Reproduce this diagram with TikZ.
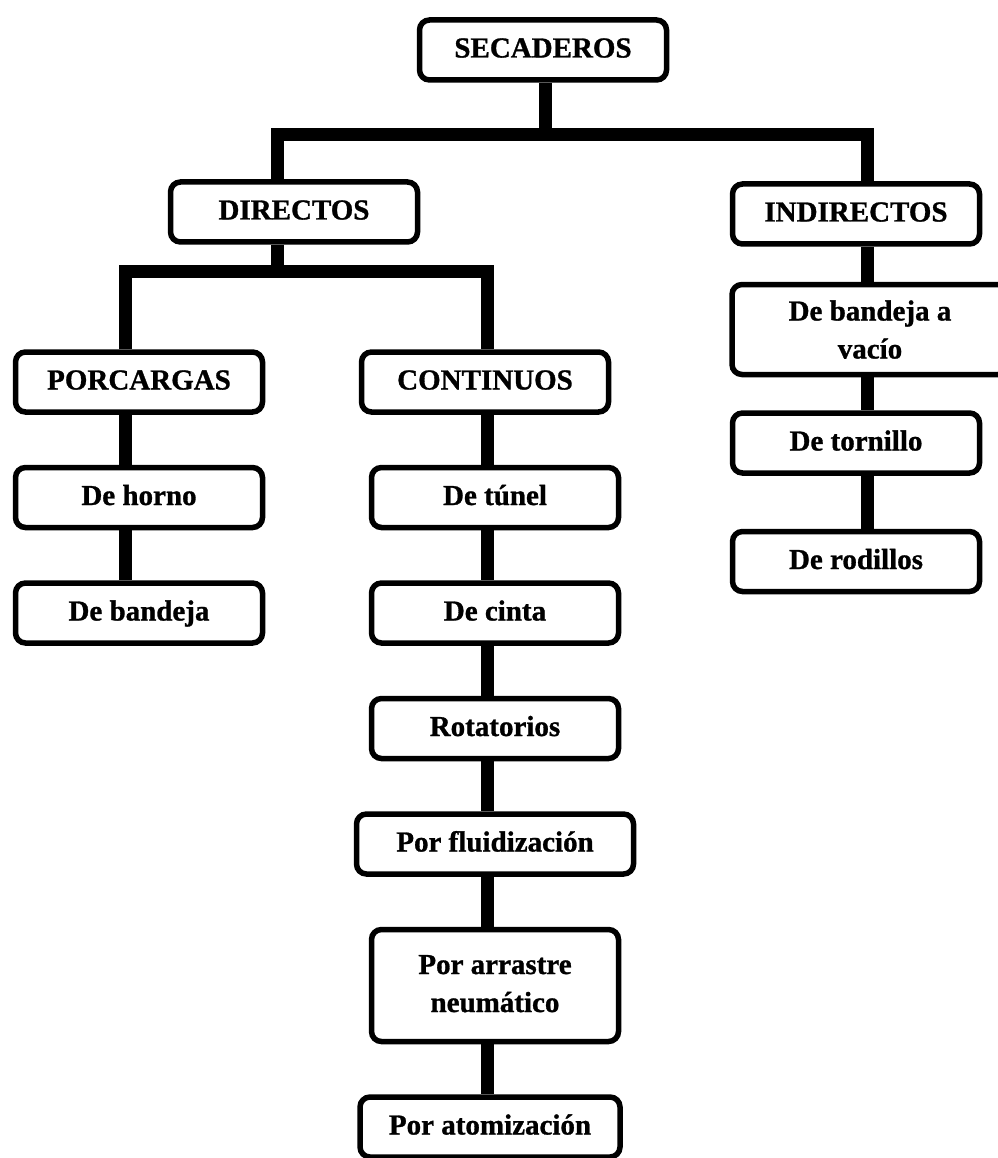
\documentclass[tikz,border=0pt]{standalone}
\usepackage{fontspec}
\setmainfont[BoldFeatures={FakeBold=1}]{Liberation Serif}
\usetikzlibrary{positioning}

\begin{document}
\begin{tikzpicture}[
      x=1pt, y=-1pt,
      node distance=50pt,
      box/.style={
        draw,
        line width=5.5pt,
        rounded corners=10pt,
        minimum width=247pt,
        minimum height=60pt,
        text height=20pt,
        text depth=5pt,
        align=center,
        font=\fontsize{29}{38}\selectfont\bfseries
      },
      link/.style={
        line width=13pt,
        line join=miter
      }
    ]

    \useasboundingbox (0,0) rectangle (997,1158);

    \node[box] (secaderos) at (543,50) {SECADEROS};
    \node[box] (directos) at (294,212) {DIRECTOS};
    \node[box] (indirectos) at (856,214) {INDIRECTOS};
    \node[box] (porcargas) at (139,382) {PORCARGAS};
    \node[box] (continuos) at (485,382) {CONTINUOS};

    \node[box, below=of porcargas] (horno) {De horno};
    \node[box, below=of horno] (bandeja) {De bandeja};

    \node[box, below=of continuos, xshift=10pt] (tunel) {De túnel};
    \node[box, below=of tunel] (cinta) {De cinta};
    \node[box, below=of cinta] (rotatorios) {Rotatorios};
    \node[box, below=of rotatorios, minimum width=277pt] (fluidizacion) {Por fluidización};
    \node[box, below=of fluidizacion, minimum height=112pt, text height=58pt] (arrastre) {Por arrastre\\neumático};
    \node[box, below=of arrastre, minimum width=260pt, xshift=-5pt] (atomizacion) {Por atomización};

    \node[box, below=35pt of indirectos, xshift=14pt, minimum width=276pt, minimum height=90pt,
      text height=58pt, text depth=0pt] (vacio) {De bandeja a\\vacío};
    \node[box, below=33pt of vacio, xshift=-14pt] (tornillo) {De tornillo};
    \node[box, below=53pt of tornillo] (rodillos) {De rodillos};

    \coordinate (bar1) at (0,135);
    \coordinate (bar2) at (0,271);
    \coordinate (pcol) at (125,0);
    \coordinate (ccol) at (487,0);
    \coordinate (icol) at (867,0);

    \draw[link] ([xshift=2pt]secaderos.south) -- ([xshift=2pt]secaderos.south |- bar1);
    \draw[link] ([xshift=-17pt]directos.north) |- ([xshift=11pt]indirectos.north |- bar1)
      -- ([xshift=11pt]indirectos.north);

    \draw[link] ([xshift=-17pt]directos.south) -- ([xshift=-17pt]directos.south |- bar2);
    \draw[link] (pcol |- porcargas.north) |- (ccol |- bar2) -- (ccol |- continuos.north);

    \foreach \a/\b in {porcargas/horno, horno/bandeja}
      \draw[link] (pcol |- \a.south) -- (pcol |- \b.north);
    \foreach \a/\b in {continuos/tunel, tunel/cinta, cinta/rotatorios,
                       rotatorios/fluidizacion, fluidizacion/arrastre, arrastre/atomizacion}
      \draw[link] (ccol |- \a.south) -- (ccol |- \b.north);
    \foreach \a/\b in {indirectos/vacio, vacio/tornillo, tornillo/rodillos}
      \draw[link] (icol |- \a.south) -- (icol |- \b.north);

  \end{tikzpicture}
\end{document}
